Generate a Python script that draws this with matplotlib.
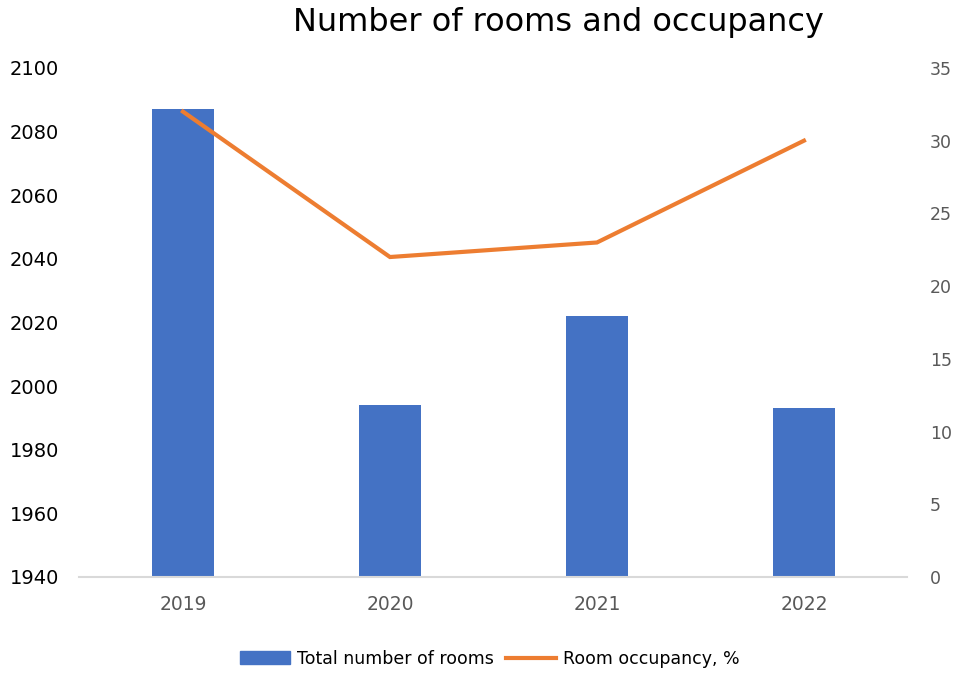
import numpy as np
import matplotlib
matplotlib.use("Agg")
import matplotlib.pyplot as plt

years = ["2019", "2020", "2021", "2022"]
rooms = [2087, 1994, 2022, 1993]
occupancy = [32, 22, 23, 30]

left_ticks = [1940, 1960, 1980, 2000, 2020, 2040, 2060, 2080, 2100]
right_ticks = [0, 5, 10, 15, 20, 25, 30, 35]

blue = "#4472C4"
orange = "#ED7D31"
grey = "#595959"

fig = plt.figure(figsize=(9.55, 6.73), dpi=100)
ax = fig.add_axes([0.0832, 0.1427, 0.8670, 0.7563])
ax2 = ax.twinx()

x = np.arange(len(years))
ax.bar(x, rooms, width=0.30, color=blue, zorder=2)
ax2.plot(x, occupancy, color=orange, lw=3, solid_joinstyle="miter", zorder=3)

ax.set_xlim(-0.5, len(years) - 0.5)
ax.set_ylim(1940, 2100)
ax2.set_ylim(0, 35)

ax.set_xticks(x)
ax.set_xticklabels(years, color=grey, fontsize=13.5)
ax.tick_params(axis="x", length=0, pad=13)

ax.set_yticks(left_ticks)
ax.set_yticklabels([str(t) for t in left_ticks], fontsize=14, color="black")
ax.tick_params(axis="y", length=0, pad=50)
for lbl in ax.get_yticklabels():
    lbl.set_horizontalalignment("left")

ax2.set_yticks(right_ticks)
ax2.set_yticklabels([str(t) for t in right_ticks], fontsize=12.5, color=grey)
ax2.tick_params(axis="y", length=0, pad=16)

for a in (ax, ax2):
    for s in a.spines.values():
        s.set_visible(False)
ax.spines["bottom"].set_visible(True)
ax.spines["bottom"].set_color("#d9d9d9")
ax.spines["bottom"].set_linewidth(1.5)

fig.text(0.585, 0.966, "Number of rooms and occupancy", ha="center", va="center",
         fontsize=23)

handles = [plt.Rectangle((0, 0), 1, 1, color=blue),
           plt.Line2D([0], [0], color=orange, lw=3)]
fig.legend(handles, ["Total number of rooms", "Room occupancy, %"],
           loc="center", bbox_to_anchor=(0.513, 0.021), ncol=2, frameon=False,
           fontsize=12.5, handlelength=2.9, handleheight=0.8, columnspacing=0.7,
           handletextpad=0.4)

fig.savefig("out.png", dpi=100)
